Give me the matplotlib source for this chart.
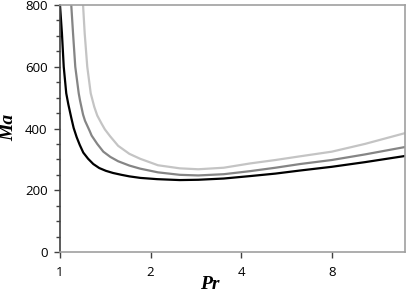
import numpy as np
import matplotlib.pyplot as plt
from matplotlib.ticker import FixedLocator, MultipleLocator, NullFormatter, NullLocator

# values (Pr, Ma)
pr_black = [1.0, 1.015, 1.029, 1.049, 1.066, 1.09, 1.11, 1.136, 1.163, 1.195, 1.24, 1.29, 1.35,
            1.42, 1.5, 1.6, 1.7, 1.85, 2.1, 2.5, 2.88, 3.5, 4.29, 5.2, 6.28, 8.0, 10.3, 14.0]
ma_black = [800, 708, 600, 514, 478, 435, 402, 372, 347, 322, 302, 285, 272,
            263, 256, 250, 245, 240, 236, 233, 234, 238, 246, 254, 264, 276, 291, 311]

pr_dark = [1.09, 1.105, 1.124, 1.154, 1.166, 1.193, 1.211, 1.255, 1.274, 1.33, 1.393, 1.47, 1.56,
           1.7, 1.846, 2.116, 2.5, 2.88, 3.5, 4.29, 5.2, 6.28, 8.0, 10.3, 14.0]
ma_dark = [800, 708, 600, 514, 490, 445, 425, 392, 377, 350, 325, 308, 294,
           280, 270, 258, 250, 248, 252, 262, 273, 285, 298, 316, 340]

pr_light = [1.193, 1.208, 1.232, 1.265, 1.30, 1.33, 1.376, 1.41, 1.467, 1.56, 1.7, 1.846, 2.116,
            2.5, 2.88, 3.5, 4.29, 5.2, 6.28, 8.0, 10.3, 14.0]
ma_light = [800, 708, 600, 514, 470, 442, 415, 397, 375, 344, 318, 302, 281,
            271, 268, 273, 287, 298, 310, 325, 350, 385]

xticks = [1, 2, 4, 8]
yticks = [0, 200, 400, 600, 800]

fig = plt.figure(figsize=(4.07, 2.96), dpi=100)
ax = fig.add_axes([0.1474, 0.1486, 0.8476, 0.8345])

ax.plot(pr_light, ma_light, color='#c4c4c4', lw=1.6, solid_joinstyle='round')
ax.plot(pr_dark, ma_dark, color='#858585', lw=1.6, solid_joinstyle='round')
ax.plot(pr_black, ma_black, color='black', lw=1.6, solid_joinstyle='round')

ax.set_xscale('log', base=2)
ax.set_xlim(1, 14)
ax.set_ylim(0, 800)
ax.xaxis.set_major_locator(FixedLocator(xticks))
ax.xaxis.set_minor_locator(NullLocator())
ax.set_xticklabels([str(t) for t in xticks])
ax.yaxis.set_major_locator(FixedLocator(yticks))
ax.yaxis.set_minor_locator(MultipleLocator(50))
ax.yaxis.set_minor_formatter(NullFormatter())

for s in ['top', 'right', 'bottom']:
    ax.spines[s].set_color('#a0a0a0')
    ax.spines[s].set_linewidth(1.2)
ax.spines['left'].set_color('#404040')
ax.spines['left'].set_linewidth(1.2)

ax.tick_params(axis='x', which='major', direction='out', length=4, width=1, color='#404040',
               labelsize=9.5, pad=6)
ax.tick_params(axis='y', which='major', direction='out', length=4, width=1, color='#404040',
               labelsize=9.5, pad=5)
ax.tick_params(axis='y', which='minor', direction='out', length=3, width=1, color='#404040')
for lab in ax.get_xticklabels() + ax.get_yticklabels():
    lab.set_fontfamily('Open Sans')

lbl = dict(family='Liberation Serif', weight='bold', style='italic', size=14)
fig.text(210 / 407, 0.025, 'Pr', ha='center', va='baseline', **lbl)
fig.text(9 / 407, 1 - 127 / 296, 'Ma', ha='center', va='center', rotation=90, **lbl)

fig.savefig('out.png', dpi=100)
